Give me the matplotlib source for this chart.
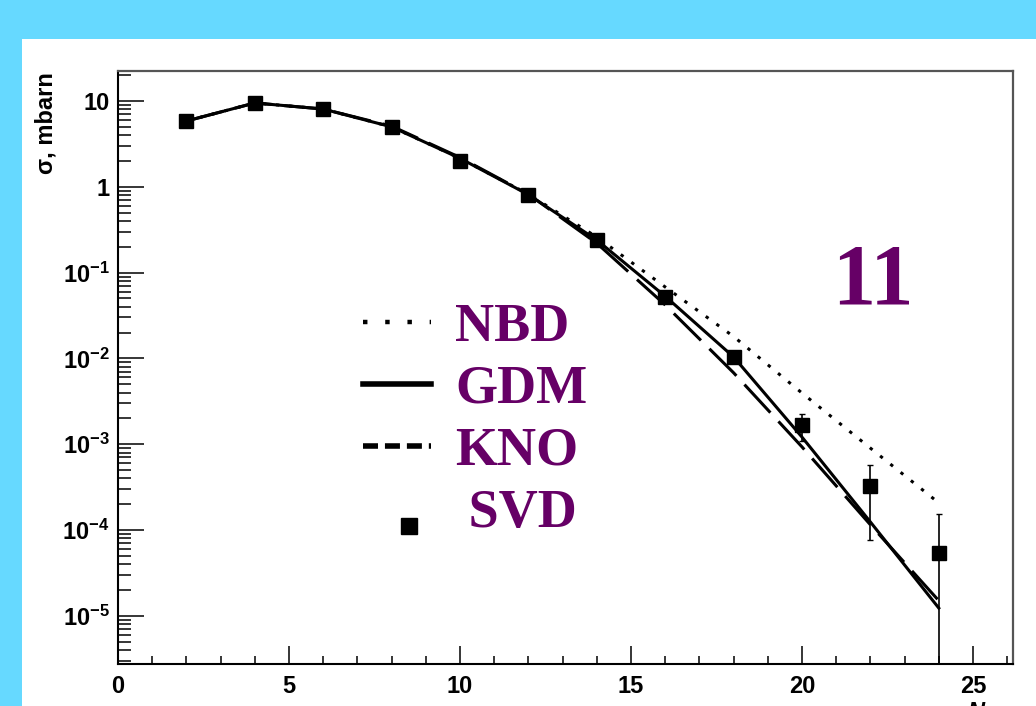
import numpy as np
import matplotlib
matplotlib.use("Agg")
import matplotlib.pyplot as plt
from matplotlib.lines import Line2D
from matplotlib.patches import Rectangle
from matplotlib.transforms import Affine2D
from matplotlib.legend_handler import HandlerLine2D
from matplotlib.ticker import LogLocator, FuncFormatter, MultipleLocator, NullFormatter

plt.rcParams["font.family"] = "Liberation Sans"
plt.rcParams["font.weight"] = "bold"
plt.rcParams["mathtext.fontset"] = "custom"
plt.rcParams["mathtext.rm"] = "Liberation Sans:bold"
plt.rcParams["mathtext.bf"] = "Liberation Sans:bold"
plt.rcParams["mathtext.it"] = "Liberation Sans:bold:italic"

# multiplicity and cross sections (mbarn)
n_ch = [2, 4, 6, 8, 10, 12, 14, 16, 18, 20, 22, 24]
svd = [5.85, 9.5, 8.07, 4.98, 2.0, 0.80, 0.24, 0.052, 0.0104, 1.67e-3, 3.26e-4, 5.4e-5]
svd_err = [0, 0, 0, 0, 0, 0, 0.01, 0.004, 0.001, 0.58e-3, 2.5e-4, 1.0e-4]
nbd = [5.85, 9.5, 8.07, 5.0, 2.15, 0.82, 0.26, 0.068, 0.018, 3.95e-3, 9.0e-4, 2.07e-4]
gdm = [5.85, 9.5, 8.07, 5.0, 2.15, 0.81, 0.24, 0.053, 0.0104, 1.21e-3, 1.24e-4, 1.23e-5]
kno = [5.85, 9.5, 8.07, 5.1, 2.2, 0.82, 0.22, 0.042, 6.8e-3, 9.3e-4, 1.15e-4, 1.5e-5]

labels = ["NBD", "GDM", "KNO", " SVD"]
purple = "#660066"


class ShiftedMarker(HandlerLine2D):
    # the SVD marker sits a bit lower and to the right in the original legend
    def create_artists(self, legend, orig_handle, xdescent, ydescent, width, height,
                       fontsize, trans):
        arts = super().create_artists(legend, orig_handle, xdescent, ydescent, width,
                                      height, fontsize, trans)
        for a in arts:
            a.set_transform(a.get_transform() + Affine2D().translate(12, -18))
        return arts


W, H = 1036, 706
fig = plt.figure(figsize=(W / 100, H / 100), dpi=100, facecolor="#66d9ff")
fig.add_artist(Rectangle((22 / W, 0), 1, 1 - 39 / H, transform=fig.transFigure,
                         facecolor="white", edgecolor="none", zorder=0))
ax = fig.add_axes([118 / W, 1 - 664 / H, (1013 - 118) / W, (664 - 71) / H])

ax.plot(n_ch, nbd, color="black", lw=2.2, ls=(0, (1.1, 3.2)))
ax.plot(n_ch, gdm, color="black", lw=2.2, ls="-")
ax.plot(n_ch, kno, color="black", lw=2.2, ls=(0, (12.5, 3.9)))
ax.errorbar(n_ch, svd, yerr=svd_err, fmt="s", color="black", ms=10,
            elinewidth=1.2, capsize=2, zorder=5)

ax.set_yscale("log")
ax.set_xlim(0, 26.17)
ax.set_ylim(2.74e-6, 22.4)

ax.xaxis.set_major_locator(MultipleLocator(5))
ax.xaxis.set_minor_locator(MultipleLocator(1))
ax.set_yticks([1e-5, 1e-4, 1e-3, 1e-2, 1e-1, 1, 10])
ax.yaxis.set_minor_locator(LogLocator(base=10, subs=np.arange(2, 10)))
ax.yaxis.set_minor_formatter(NullFormatter())


def ylab(v, pos):
    e = int(round(np.log10(v)))
    if e == 1:
        return "10"
    if e == 0:
        return "1"
    return r"$10^{%d}$" % e


ax.yaxis.set_major_formatter(FuncFormatter(ylab))

ax.tick_params(axis="y", which="major", direction="in", length=18.7, width=1.1,
               pad=6, labelsize=17, right=False)
ax.tick_params(axis="y", which="minor", direction="in", length=9.4, width=1.1, right=False)
ax.tick_params(axis="x", which="major", direction="in", length=13, width=1.1,
               pad=8, labelsize=17, top=False)
ax.tick_params(axis="x", which="minor", direction="in", length=5.8, width=1.1, top=False)

for s in ["left", "bottom"]:
    ax.spines[s].set_linewidth(1.5)
for s in ["top", "right"]:
    ax.spines[s].set_linewidth(1.6)
    ax.spines[s].set_color("#555555")

fig.text(46 / W, 1 - 72 / H, "σ, mbarn", rotation=90, ha="center", va="top", fontsize=17)
fig.text(967 / W, 1 - 700 / H, r"$N_{ch}$", ha="left", va="top", fontsize=17)

fig.text(873 / W, 1 - 303 / H, "11", ha="center", va="baseline", color=purple,
         family="Liberation Serif", weight="bold", fontsize=62)

svd_handle = Line2D([], [], color="black", marker="s", ls="none", ms=12)
handles = [
    Line2D([], [], color="black", lw=3.2, ls=(0, (1, 4.0))),
    Line2D([], [], color="black", lw=4),
    Line2D([], [], color="black", lw=4, ls=(0, (2.7, 1.25))),
    svd_handle,
]
leg = fig.legend(handles, labels, loc="upper left", bbox_to_anchor=(363 / W, 1 - 303 / H),
                 frameon=False, borderpad=0, borderaxespad=0, handlelength=1.25,
                 handletextpad=0.45, labelspacing=0.22, labelcolor=purple,
                 handler_map={svd_handle: ShiftedMarker()},
                 prop={"family": "Liberation Serif", "weight": "bold", "size": 39})

fig.savefig("out.png", dpi=100, facecolor=fig.get_facecolor())
